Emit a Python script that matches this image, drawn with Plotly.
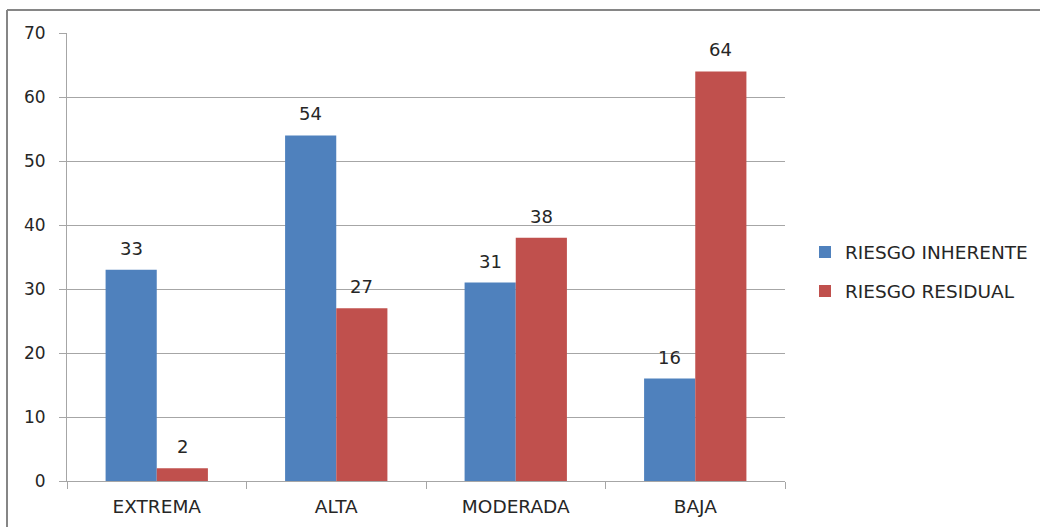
import plotly.graph_objects as go

categories = ["EXTREMA", "ALTA", "MODERADA", "BAJA"]
inherente = [33, 54, 31, 16]
residual = [2, 27, 38, 64]
y_ticks = [0, 10, 20, 30, 40, 50, 60, 70]

FONT = "DejaVu Sans, sans-serif"
TXT = "#262626"
L, R, T, B = 67, 255, 33, 46
W, H = 1040, 527
pw, ph = W - L - R, H - T - B
BAR_HALF = 25.5  # half of a bar's pixel width, for label offsets

fig = go.Figure()
fig.add_trace(go.Bar(name="RIESGO INHERENTE", x=categories, y=inherente,
                     marker=dict(color="#4F81BD", line=dict(width=0)),
                     legendgroup="a"))
fig.add_trace(go.Bar(name="RIESGO RESIDUAL", x=categories, y=residual,
                     marker=dict(color="#C0504D", line=dict(width=0)),
                     legendgroup="b"))

annotations = []
for series, shift in ((inherente, -BAR_HALF), (residual, BAR_HALF)):
    for c, v in zip(categories, series):
        annotations.append(dict(x=c, y=v, xref="x", yref="y", text=str(v),
                                showarrow=False, yanchor="bottom", xanchor="center",
                                xshift=shift, yshift=9,
                                font=dict(size=18, family=FONT, color=TXT)))

fig.update_layout(
    width=W, height=H,
    margin=dict(l=L, r=R, t=T, b=B, pad=0, autoexpand=False),
    paper_bgcolor="white", plot_bgcolor="white",
    barmode="group", bargap=0.43, bargroupgap=0,
    font=dict(family=FONT, size=18, color=TXT),
    annotations=annotations,
    legend=dict(x=(805 - L) / pw, xanchor="left", y=(481 - 272) / ph, yanchor="middle",
                font=dict(size=18.5, family=FONT, color=TXT),
                tracegroupgap=12, itemsizing="constant", bgcolor="rgba(0,0,0,0)"),
    xaxis=dict(showline=True, linecolor="#A6A6A6", linewidth=1,
               ticks="outside", tickson="boundaries", ticklen=7, tickcolor="#A6A6A6",
               tickfont=dict(size=18.5, family=FONT, color=TXT),
               ticklabelstandoff=9,
               showgrid=False, fixedrange=True),
    yaxis=dict(range=[0, 70], tickvals=y_ticks, showline=True, linecolor="#A6A6A6",
               linewidth=1, ticks="outside", ticklen=7, tickcolor="#A6A6A6",
               showgrid=True, gridcolor="#A6A6A6", gridwidth=1, zeroline=False,
               tickfont=dict(size=17, family=FONT, color=TXT),
               ticklabelstandoff=10, fixedrange=True),
    shapes=[
        dict(type="line", xref="paper", yref="paper",
             x0=(7 - L) / pw, x1=2, y0=(H - B - 10) / ph, y1=(H - B - 10) / ph,
             line=dict(color="#868686", width=2), layer="above"),
        dict(type="line", xref="paper", yref="paper",
             x0=(7 - L) / pw, x1=(7 - L) / pw, y0=(H - B - 10) / ph, y1=-1,
             line=dict(color="#868686", width=2), layer="above"),
    ],
)

fig.write_html("out.html")
